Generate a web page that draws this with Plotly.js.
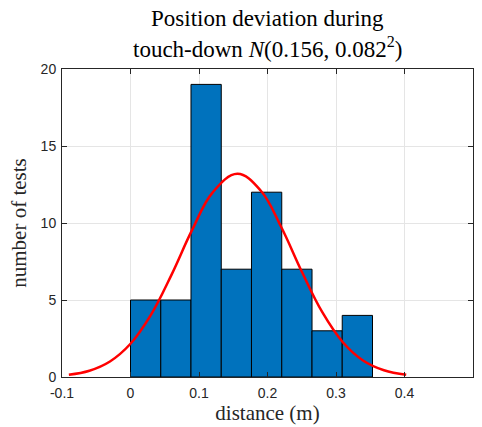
<!DOCTYPE html>
<html>
<head>
<meta charset="utf-8">
<script src="https://cdn.plot.ly/plotly-3.0.1.min.js"></script>
<style>html,body{margin:0;padding:0;background:#fff;}#plot{width:482px;height:427px;}</style>
</head>
<body>
<div id="plot"></div>
<script>
// Histogram data
const binEdges = [0, 0.0442, 0.0883, 0.1325, 0.1766, 0.2208, 0.2650, 0.3091, 0.3533];
const counts = [5, 5, 19, 7, 12, 7, 3, 4];

// Fitted normal curve points
const curveX = [-0.09, -0.06, -0.03, 0, 0.03, 0.06, 0.09, 0.12, 0.156, 0.19, 0.22, 0.25, 0.28, 0.31, 0.34, 0.37, 0.4025];
const curveY = [0.15, 0.41, 1.01, 2.16, 4.05, 6.65, 9.55, 11.99, 13.2, 12.11, 9.74, 6.85, 4.21, 2.26, 1.06, 0.44, 0.14];

const xTickVals = [-0.1, 0, 0.1, 0.2, 0.3, 0.4, 0.5];
const xTickText = ["-0.1", "0", "0.1", "0.2", "0.3", "0.4", "0.5"];
const yTickVals = [0, 5, 10, 15, 20];
const yTickText = ["0", "5", "10", "15", "20"];

const titleLines = ['Position deviation during', 'touch-down <i>N</i>(0.156, 0.082<sup>2</sup>)'];

const centers = [], widths = [];
for (let i = 0; i < counts.length; i++) {
  centers.push((binEdges[i] + binEdges[i + 1]) / 2);
  widths.push(binEdges[i + 1] - binEdges[i]);
}

const traces = [
  {
    type: 'bar', x: centers, y: counts, width: widths,
    marker: {color: '#0072BD', line: {color: '#000000', width: 1}},
    hoverinfo: 'skip'
  },
  {
    type: 'scatter', mode: 'lines', x: curveX, y: curveY,
    line: {color: '#FF0000', width: 2.5, shape: 'spline', smoothing: 1.1},
    hoverinfo: 'skip'
  }
];

const serif = 'Liberation Serif, Times New Roman, serif';
const axisCommon = {
  showline: true, linecolor: '#262626', linewidth: 1, mirror: 'ticks',
  ticks: 'inside', ticklen: 5, tickcolor: '#262626', tickwidth: 1,
  showgrid: true, gridcolor: '#e5e5e5', gridwidth: 1,
  zeroline: false,
  tickfont: {family: 'Liberation Sans, Arial, sans-serif', size: 14, color: '#262626'}
};

const layout = {
  width: 482, height: 427,
  margin: {l: 62, r: 9, t: 69, b: 50},
  paper_bgcolor: '#ffffff', plot_bgcolor: '#ffffff',
  showlegend: false,
  bargap: 0,
  annotations: [
    {text: titleLines[0], xref: 'paper', yref: 'paper', x: 0.5, y: (377 - 18) / 308, xanchor: 'center', yanchor: 'middle', showarrow: false,
     font: {family: serif, size: 23, color: '#000000'}},
    {text: titleLines[1], xref: 'paper', yref: 'paper', x: 0.5, y: (377 - 47) / 308, xanchor: 'center', yanchor: 'middle', showarrow: false,
     font: {family: serif, size: 23, color: '#000000'}}
  ],
  xaxis: Object.assign({}, axisCommon, {
    range: [-0.1, 0.5], tickmode: 'array', tickvals: xTickVals, ticktext: xTickText,
    ticklabelstandoff: 3,
    title: {text: 'distance (m)', standoff: 3, font: {family: serif, size: 21, color: '#262626'}}
  }),
  yaxis: Object.assign({}, axisCommon, {
    range: [0, 20], tickmode: 'array', tickvals: yTickVals, ticktext: yTickText,
    ticklabelstandoff: 2,
    title: {text: 'number of tests', standoff: 8, font: {family: serif, size: 21, color: '#262626'}}
  })
};

Plotly.newPlot('plot', traces, layout, {displayModeBar: false, staticPlot: true});
</script>
</body>
</html>
